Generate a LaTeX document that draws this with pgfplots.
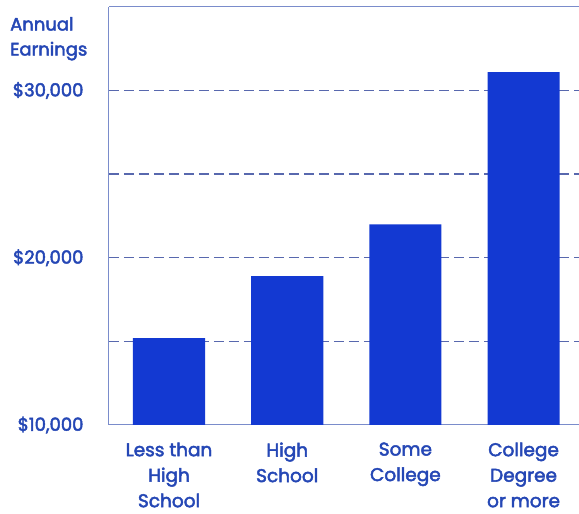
\documentclass[border=0pt]{standalone}
\usepackage{pgfplots}
\pgfplotsset{compat=1.18}
\usepackage{fontspec}
\setmainfont{Poppins}[FakeBold=2.5]
\definecolor{barblue}{HTML}{1339D2}
\definecolor{txtblue}{HTML}{2547B5}
\definecolor{gridblue}{HTML}{5868AE}
\definecolor{axisblue}{HTML}{7A8CCB}

% Median annual earnings by education level
\pgfplotstableread{
x  earn
0  15200
1  18900
2  22000
3  31100
}\earnings

\begin{document}
\begin{tikzpicture}
\begin{axis}[
  scale only axis,
  width=470pt, height=418pt,
  xmin=-0.508, xmax=3.469,
  ymin=10000, ymax=35000,
  axis lines=left,
  axis line style={-, axisblue, line width=1pt},
  scaled y ticks=false,
  xtick=data,
  xticklabels={{Less than\\High\\School},{High\\School},{Some\\College},{College\\Degree\\or more}},
  xticklabel style={align=center, text=txtblue, font=\fontsize{18.5}{25.5}\selectfont, yshift=-14pt},
  ytick={10000,20000,30000},
  yticklabels={\$10{,}000,\$20{,}000,\$30{,}000},
  yticklabel style={text=txtblue, font=\fontsize{18}{20}\selectfont, xshift=-22pt},
  /pgf/number format/assume math mode=true,
  major tick length=0pt,
  extra y ticks={15000,20000,25000,30000},
  extra y tick labels={},
  extra y tick style={grid=major},
  major grid style={gridblue, line width=1.4pt, dash pattern=on 10pt off 5pt},
  clip=false,
]
\addplot[ybar, bar width=0.61, fill=barblue, draw=none] table[x=x, y=earn] {\earnings};
\draw[axisblue, line width=1pt] (rel axis cs:0,1) -- (rel axis cs:1,1);
\coordinate (O) at (rel axis cs:0,0);
\end{axis}
\node[anchor=north west, align=left, text=txtblue, font=\fontsize{18}{25}\selectfont, inner sep=0pt]
  at ([xshift=-99pt, yshift=408pt]O) {Annual\\Earnings};
\pgfresetboundingbox
\path (O) ++(-109pt,-89pt) rectangle ++(579pt,514pt);
\end{tikzpicture}
\end{document}
